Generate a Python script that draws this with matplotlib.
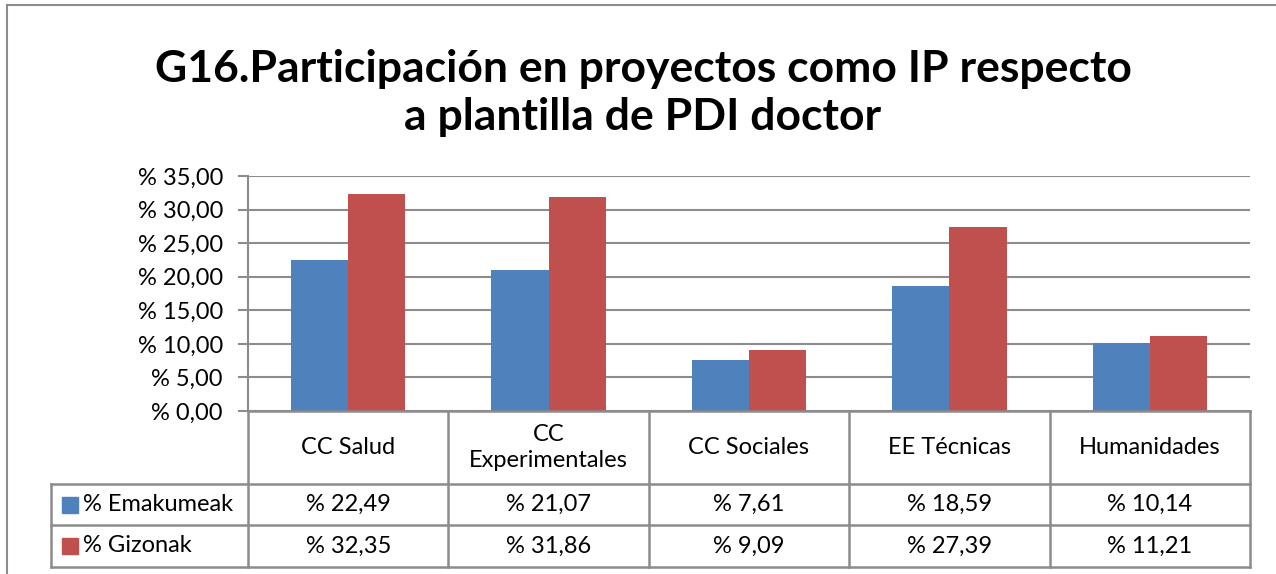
import matplotlib
matplotlib.use("Agg")
import matplotlib.pyplot as plt
from matplotlib.lines import Line2D
from matplotlib.patches import Rectangle
from matplotlib.ticker import FuncFormatter
import numpy as np

plt.rcParams['font.family'] = ['Lato', 'DejaVu Sans']

categories = ["CC Salud", "CC\nExperimentales", "CC Sociales", "EE Técnicas", "Humanidades"]
series_names = ["% Emakumeak", "% Gizonak"]
emakumeak = [22.49, 21.07, 7.61, 18.59, 10.14]
gizonak = [32.35, 31.86, 9.09, 27.39, 11.21]
yticks = [0, 5, 10, 15, 20, 25, 30, 35]
title = "G16.Participación en proyectos como IP respecto\na plantilla de PDI doctor"

colors = ["#4F81BD", "#C0504D"]
grid_c = "#8C8C8C"
fs = 17

W, H = 1276, 574
fig = plt.figure(figsize=(W / 100, H / 100), dpi=100)

def fx(px):
    return px / W

def fy(py):
    return 1 - py / H

def pct(v):
    return "% " + f"{v:.2f}".replace(".", ",")

# plot area in pixels
L, R, T, B = 248, 1250, 176, 411
ax = fig.add_axes([fx(L), fy(B), fx(R) - fx(L), fy(T) - fy(B)])

x = np.arange(len(categories))
bw = 0.285
ax.bar(x - bw / 2, emakumeak, bw, color=colors[0], zorder=3)
ax.bar(x + bw / 2, gizonak, bw, color=colors[1], zorder=3)

ax.set_xlim(-0.5, len(categories) - 0.5)
ax.set_ylim(0, 35)
ax.set_yticks(yticks)
ax.yaxis.set_major_formatter(FuncFormatter(lambda v, p: pct(v)))
ax.tick_params(axis="y", direction="out", length=7, width=1.5, color=grid_c,
               labelsize=fs, pad=11)
ax.set_xticks([])
ax.grid(axis="y", color=grid_c, linewidth=1.5, zorder=0)
for s in ["top", "right", "bottom"]:
    ax.spines[s].set_visible(False)
ax.spines["left"].set_color(grid_c)
ax.spines["left"].set_linewidth(1.5)

# data table below the plot
col_edges = [L + i * (R - L) / len(categories) for i in range(len(categories) + 1)]
rows_y = [411, 484, 525, 567]
leg_left = 51

def hline(x0, x1, y):
    fig.add_artist(Line2D([fx(x0), fx(x1)], [fy(y), fy(y)], color=grid_c, lw=1.8))

def vline(x0, y0, y1):
    fig.add_artist(Line2D([fx(x0), fx(x0)], [fy(y0), fy(y1)], color=grid_c, lw=1.8))

hline(L, R, rows_y[0])
for y in rows_y[1:]:
    hline(leg_left, R, y)
for xe in col_edges:
    vline(xe, rows_y[0], rows_y[-1])
vline(leg_left, rows_y[1], rows_y[-1])

for i, cat in enumerate(categories):
    cx = (col_edges[i] + col_edges[i + 1]) / 2
    fig.text(fx(cx), fy((rows_y[0] + rows_y[1]) / 2), cat, ha="center", va="center",
             fontsize=fs, linespacing=1.35)

for r, (name, vals) in enumerate(zip(series_names, [emakumeak, gizonak])):
    cy = (rows_y[r + 1] + rows_y[r + 2]) / 2
    fig.add_artist(Rectangle((fx(62), fy(cy + 8)), fx(16), fy(cy - 8) - fy(cy + 8),
                             color=colors[r]))
    fig.text(fx(83), fy(cy), name, ha="left", va="center", fontsize=fs)
    for i, v in enumerate(vals):
        cx = (col_edges[i] + col_edges[i + 1]) / 2
        fig.text(fx(cx), fy(cy), pct(v), ha="center", va="center", fontsize=fs)

# title
fig.text(fx(643), fy(93), title, ha="center", va="center", fontsize=32,
         fontweight="bold", linespacing=1.22)

# chart border
fig.add_artist(Line2D([fx(7), fx(7)], [fy(5), 0], color="#8C8C8C", lw=1.5))
fig.add_artist(Line2D([fx(7), 1], [fy(5), fy(5)], color="#8C8C8C", lw=1.5))

fig.savefig("out.png", dpi=100)
